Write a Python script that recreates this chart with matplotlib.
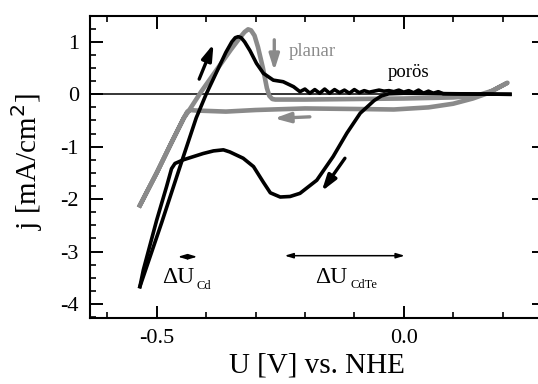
# cyclic voltammograms: planar vs porous CdTe electrode
import numpy as np
import matplotlib
matplotlib.use('Agg')
import matplotlib.pyplot as plt
from matplotlib.ticker import MultipleLocator, FormatStrFormatter

plt.rcParams['font.family'] = ['Liberation Serif', 'DejaVu Serif']
plt.rcParams['axes.unicode_minus'] = False

# planar electrode (gray), one full cycle
planar_v = [-0.534, -0.50, -0.47, -0.445, -0.436, -0.41, -0.38, -0.35, -0.33, -0.322,
            -0.315, -0.309, -0.302, -0.295, -0.285, -0.277, -0.272, -0.266, -0.26, -0.20,
            -0.10, 0.00, 0.10, 0.15, 0.18, 0.21,
            0.17, 0.14, 0.10, 0.05, -0.02, -0.10, -0.20, -0.30, -0.36, -0.42, -0.432,
            -0.438, -0.445, -0.47, -0.50, -0.534]
planar_j = [-2.12, -1.50, -0.92, -0.45, -0.33, 0.05, 0.45, 0.85, 1.10, 1.19,
            1.24, 1.22, 1.12, 0.90, 0.50, 0.12, -0.03, -0.09, -0.10, -0.10,
            -0.09, -0.08, -0.06, -0.02, 0.07, 0.22,
            0.02, -0.08, -0.18, -0.25, -0.29, -0.28, -0.27, -0.30, -0.33, -0.31, -0.30,
            -0.33, -0.45, -0.92, -1.50, -2.12]

# porous electrode (black), anodic sweep
poros_fwd_v = [-0.534, -0.49, -0.45, -0.42, -0.40, -0.38, -0.36, -0.348, -0.341, -0.335,
               -0.329, -0.322, -0.311, -0.298, -0.284, -0.264, -0.244, -0.223, -0.21,
               -0.20, -0.19, -0.18, -0.17, -0.16, -0.15, -0.14, -0.13, -0.12, -0.11,
               -0.10, -0.09, -0.08, -0.07, -0.06, -0.05, -0.04, -0.03, -0.02, -0.01,
               0.00, 0.01, 0.02, 0.03, 0.04, 0.05, 0.06, 0.07, 0.08, 0.215]
poros_fwd_j = [-3.67, -2.45, -1.30, -0.45, 0.00, 0.40, 0.80, 1.00, 1.08, 1.10,
               1.08, 1.00, 0.83, 0.59, 0.40, 0.27, 0.24, 0.145, 0.05,
               0.10, 0.02, 0.09, 0.02, 0.10, 0.02, 0.09, 0.03, 0.08, 0.02,
               0.09, 0.03, 0.07, 0.04, 0.06, 0.08, 0.06, 0.07, 0.05, 0.08,
               0.04, 0.07, 0.03, 0.08, 0.02, 0.06, 0.02, 0.05, 0.01, 0.00]

# porous electrode (black), cathodic sweep
poros_rev_v = [0.215, 0.00, -0.03, -0.045, -0.06, -0.075, -0.088, -0.115, -0.143, -0.176,
               -0.21, -0.23, -0.25, -0.27, -0.284, -0.304, -0.325, -0.352, -0.365, -0.385,
               -0.406, -0.426, -0.446, -0.463, -0.47, -0.48, -0.50, -0.527, -0.534]
poros_rev_j = [0.00, 0.02, 0.01, -0.03, -0.12, -0.25, -0.36, -0.74, -1.19, -1.64,
               -1.89, -1.95, -1.96, -1.88, -1.68, -1.38, -1.22, -1.10, -1.06, -1.08,
               -1.13, -1.19, -1.25, -1.32, -1.42, -1.76, -2.40, -3.35, -3.67]

GRAY = '#8a8a8a'

fig = plt.figure(figsize=(5.38, 3.84), dpi=100)
ax = fig.add_axes([0.1673, 0.1727, 0.8439, 0.7856])

ax.hlines(0, -0.635, 0.215, color='black', lw=1.1, zorder=1)
ax.plot(planar_v, planar_j, color=GRAY, lw=3.3, solid_joinstyle='round', zorder=2)
ax.plot(poros_fwd_v, poros_fwd_j, color='black', lw=2.6, solid_joinstyle='round', zorder=3)
ax.plot(poros_rev_v, poros_rev_j, color='black', lw=2.6, solid_joinstyle='round', zorder=3)

# sweep direction arrows
def sweep_arrow(tail, head, color):
    ax.annotate('', xy=head, xytext=tail,
                arrowprops=dict(arrowstyle='-|>,head_length=0.95,head_width=0.3',
                                color=color, lw=2.4, shrinkA=0, shrinkB=0),
                zorder=4)

sweep_arrow((-0.414, 0.29), (-0.385, 0.96), 'black')
sweep_arrow((-0.262, 1.04), (-0.262, 0.45), GRAY)
sweep_arrow((-0.19, -0.43), (-0.262, -0.46), GRAY)
sweep_arrow((-0.119, -1.22), (-0.166, -1.85), 'black')

ax.text(-0.232, 0.81, 'planar', color=GRAY, fontsize=13.5, va='center', ha='left')
ax.text(-0.032, 0.41, 'porös', color='black', fontsize=13.5, va='center', ha='left')

# potential windows
for v0, v1, y in [(-0.457, -0.418, -3.10), (-0.241, 0.002, -3.08)]:
    ax.annotate('', xy=(v1, y), xytext=(v0, y),
                arrowprops=dict(arrowstyle='<|-|>,head_length=0.5,head_width=0.15',
                                color='black', lw=1.1, shrinkA=0, shrinkB=0))

ax.text(-0.49, -3.61, 'ΔU', fontsize=17, va='baseline', ha='left')
ax.text(-0.4195, -3.72, 'Cd', fontsize=9, va='baseline', ha='left')
ax.text(-0.18, -3.61, 'ΔU', fontsize=17, va='baseline', ha='left')
ax.text(-0.107, -3.70, 'CdTe', fontsize=9, va='baseline', ha='left')

ax.set_xlim(-0.635, 0.284)
ax.set_ylim(-4.263, 1.494)
ax.xaxis.set_major_locator(MultipleLocator(0.5))
ax.xaxis.set_minor_locator(MultipleLocator(0.1))
ax.xaxis.set_major_formatter(FormatStrFormatter('%.1f'))
ax.yaxis.set_major_locator(MultipleLocator(1))
ax.yaxis.set_minor_locator(MultipleLocator(0.25))
ax.yaxis.set_major_formatter(FormatStrFormatter('%d'))
ax.tick_params(which='both', direction='in', top=True, right=True, labelsize=16)
ax.tick_params(which='major', length=9, width=1.4, pad=8)
ax.tick_params(which='minor', length=4.5, width=1.2)
for s in ax.spines.values():
    s.set_linewidth(1.5)

ax.set_xlabel('U [V] vs. NHE', fontsize=21)
ax.set_ylabel('j [mA/cm$^2$]', fontsize=21)
ax.xaxis.set_label_coords(0.5, -0.117)
ax.yaxis.set_label_coords(-0.099, 0.516)

fig.savefig('out.png', dpi=100)
